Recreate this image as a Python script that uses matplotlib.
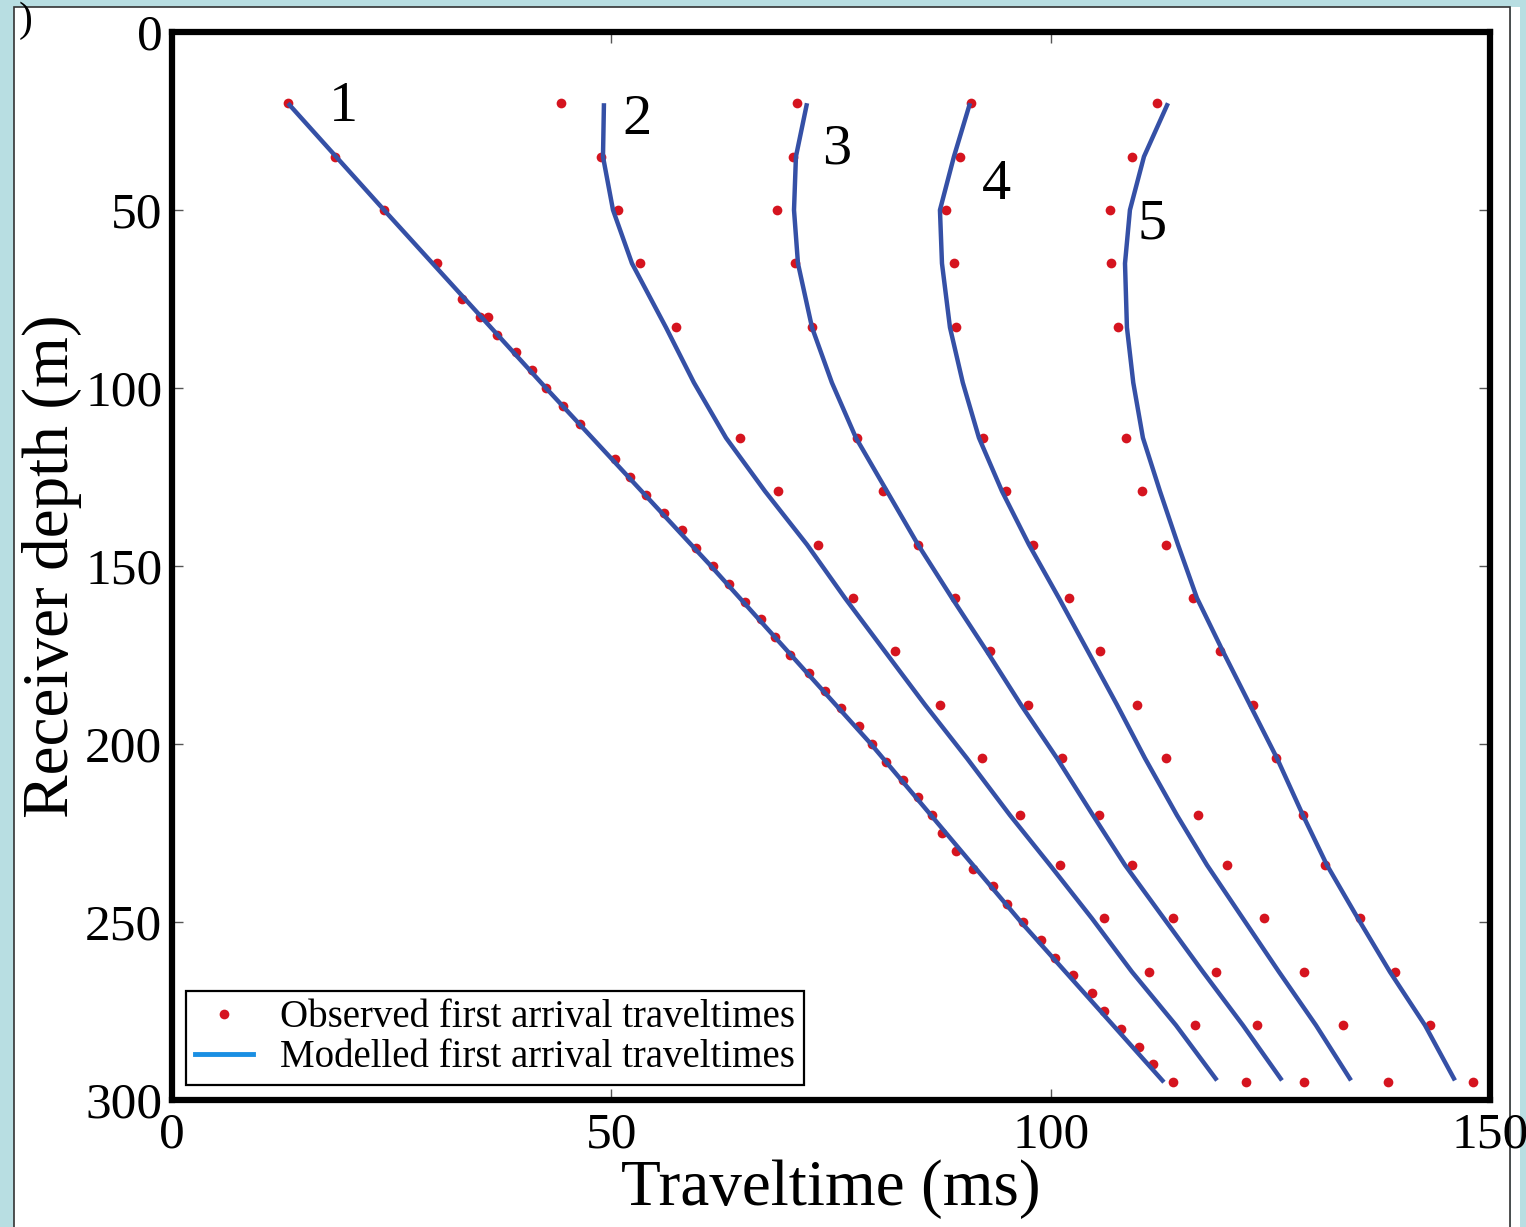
import matplotlib
matplotlib.use("Agg")
import matplotlib.pyplot as plt
from matplotlib.lines import Line2D
from matplotlib.patches import Rectangle

plt.rcParams['font.family'] = ['Liberation Serif', 'DejaVu Serif']

# receiver depths (m) of the observed picks for shots 2-5
depth_obs = [20, 35, 50, 65, 83, 114, 129, 144, 159, 174, 189, 204, 220, 234, 249, 264, 279, 295]

# shot 1 has denser picks
depth_obs1 = [20, 35, 50, 65, 75, 80, 80, 85, 90, 95, 100, 105, 110, 120, 125, 130, 135, 140,
              145, 150, 155, 160, 165, 170, 175, 180, 185, 190, 195, 200, 205, 210, 215, 220,
              225, 230, 235, 240, 245, 250, 255, 260, 265, 270, 275, 280, 285, 290, 295]
obs1 = [13.2, 18.55, 24.1, 30.2, 33.0, 35.05, 35.95, 37.0, 39.15, 41.0, 42.6, 44.5, 46.4, 50.4,
        52.1, 53.9, 56.0, 58.0, 59.6, 61.6, 63.4, 65.2, 67.0, 68.6, 70.3, 72.5, 74.3, 76.1,
        78.2, 79.7, 81.3, 83.2, 84.9, 86.5, 87.6, 89.2, 91.2, 93.4, 95.0, 96.8, 98.9, 100.5,
        102.5, 104.7, 106.1, 108.0, 110.0, 111.6, 113.9]
obs2 = [44.27, 48.82, 50.76, 53.26, 57.36, 64.64, 68.97, 73.52, 77.50, 82.28, 87.40, 92.18,
        96.51, 101.06, 106.07, 111.19, 116.42, 122.23]
obs3 = [71.13, 70.67, 68.85, 70.90, 72.84, 77.96, 80.91, 84.90, 89.11, 93.09, 97.42, 101.29,
        105.50, 109.25, 113.92, 118.81, 123.48, 128.83]
obs4 = [90.93, 89.68, 88.08, 88.99, 89.22, 92.30, 94.91, 97.99, 102.08, 105.61, 109.82, 113.12,
        116.76, 120.06, 124.27, 128.83, 133.27, 138.39]
obs5 = [112.10, 109.25, 106.75, 106.86, 107.66, 108.57, 110.39, 113.12, 116.19, 119.27, 123.02,
        125.64, 128.71, 131.22, 135.20, 139.18, 143.16, 148.06]

# modelled traveltimes
depth_mod1 = [20, 50, 100, 150, 200, 250, 295]
mod1 = [13.20, 24.13, 42.56, 61.34, 79.55, 96.62, 112.89]
depth_mod = [20, 35, 50, 65, 83, 98.5, 114, 129, 144, 159, 174, 189, 204, 220, 234, 249, 264,
             279, 294.5]
mod2 = [49.16, 49.05, 50.19, 52.35, 56.22, 59.4, 63.05, 67.49, 72.27, 76.59, 81.14, 85.70,
        90.47, 95.37, 99.92, 104.70, 109.25, 114.26, 118.93]
mod3 = [72.27, 71.01, 70.79, 71.24, 72.84, 75.1, 77.84, 81.37, 84.90, 88.77, 92.75, 96.62,
        100.72, 104.81, 108.46, 112.89, 117.33, 121.88, 126.32]
mod4 = [90.82, 88.99, 87.40, 87.63, 88.54, 90.0, 91.84, 94.46, 97.53, 100.94, 104.25, 107.55,
        110.73, 114.37, 117.79, 121.88, 125.98, 130.19, 134.18]
mod5 = [113.35, 110.62, 109.02, 108.46, 108.68, 109.4, 110.50, 112.44, 114.49, 116.65, 119.61,
        122.68, 125.76, 128.71, 131.44, 134.97, 138.61, 142.60, 146.01]

shot_labels = ['1', '2', '3', '4', '5']
label_x = [19.5, 52.9, 75.6, 93.8, 111.5]
label_y = [21.1, 24.7, 33.1, 43.0, 54.2]

red = '#d5141f'
blue = '#3550a6'

fig = plt.figure(figsize=(15.26, 12.27), dpi=100, facecolor='#b8dee2')
# white page with thin border
fig.patches.append(Rectangle((14 / 1526, -0.01), (1510 - 14) / 1526, 1 - 7 / 1227 + 0.01,
                             transform=fig.transFigure, facecolor='white',
                             edgecolor='#333333', linewidth=1.2, zorder=-2))
fig.patches.append(Rectangle((1511 / 1526, -0.01), 9 / 1526, 1 - 7 / 1227 + 0.01,
                             transform=fig.transFigure, facecolor='white',
                             edgecolor='none', zorder=-2))
fig.text(0.012, 0.999, ')', ha='left', va='top', fontsize=30)

ax = fig.add_axes([172 / 1526, 1 - 1100 / 1227, (1490 - 172) / 1526, (1100 - 32) / 1227])

ax.plot(obs1, depth_obs1, 'o', color=red, ms=7, mec='none', zorder=2)
for obs in [obs2, obs3, obs4, obs5]:
    ax.plot(obs, depth_obs, 'o', color=red, ms=7, mec='none', zorder=2)

ax.plot(mod1, depth_mod1, color=blue, lw=3.2, solid_capstyle='butt', zorder=3)
for mod in [mod2, mod3, mod4, mod5]:
    ax.plot(mod, depth_mod, color=blue, lw=3.2, solid_capstyle='butt',
            solid_joinstyle='round', zorder=3)

for lab, x, y in zip(shot_labels, label_x, label_y):
    ax.text(x, y, lab, fontsize=42, ha='center', va='center')

ax.set_xlim(0, 150)
ax.set_ylim(300, 0)
ax.set_xticks([0, 50, 100, 150])
ax.set_yticks([0, 50, 100, 150, 200, 250, 300])
ax.tick_params(direction='in', top=True, right=True, length=8, width=1, color='#555555',
               labelsize=37, pad=7)
ax.tick_params(axis='x', pad=9)
for s in ax.spines.values():
    s.set_linewidth(4.5)

ax.set_xlabel('Traveltime (ms)', fontsize=47, labelpad=0)
ax.set_ylabel('Receiver depth (m)', fontsize=47, labelpad=2)

handles = [Line2D([], [], marker='o', ls='none', color=red, ms=7, mec='none'),
           Line2D([], [], color='#1a8fe3', lw=3.5)]
leg = ax.legend(handles, ['Observed first arrival traveltimes', 'Modelled first arrival traveltimes'],
                loc='lower left', bbox_to_anchor=(0.0106, 0.014), borderaxespad=0,
                fontsize=28, fancybox=False, framealpha=1, edgecolor='black',
                handlelength=1.5, handletextpad=0.7, labelspacing=0.08, borderpad=0.22)
leg.get_frame().set_linewidth(1.6)

fig.savefig('out.png', dpi=100, facecolor=fig.get_facecolor())
